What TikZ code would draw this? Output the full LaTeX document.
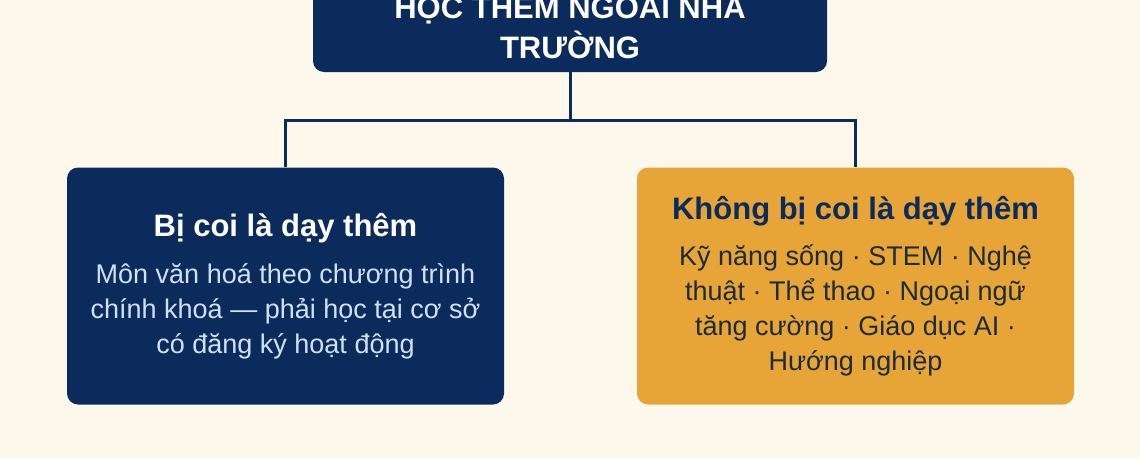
\documentclass[tikz,border=0pt]{standalone}
\usepackage{fontspec}
\setmainfont{Liberation Sans}
\usepackage{xcolor}
\usepackage{tikz}
\definecolor{navy}{HTML}{0B2B5C}
\definecolor{gold}{HTML}{E6A536}
\definecolor{cream}{HTML}{FDF8EC}
\definecolor{paleblue}{HTML}{CFE0F7}
\definecolor{ink}{HTML}{1D2B3F}

\begin{document}
\begin{tikzpicture}[x=1pt,y=-1pt,
	box/.style={rounded corners=11pt,minimum width=437pt,minimum height=237pt,align=center,inner sep=0pt,font=\fontsize{27}{35}\selectfont},
	link/.style={draw=navy,line width=3pt}]
\fill[cream] (0,0) rectangle (1140,458);
\useasboundingbox (0,0) rectangle (1140,458);
%
\node[box,fill=navy,minimum width=514pt,minimum height=95pt,text=white,font=\fontsize{31}{40}\selectfont\bfseries] (root) at (570,24.5) {HỌC THÊM NGOÀI NHÀ\\TRƯỜNG};
\node[box,fill=navy,text=paleblue] (taught) at (285.5,286) {{\fontsize{31}{36}\selectfont\bfseries\color{white}Bị coi là dạy thêm}\\[12pt]Môn văn hoá theo chương trình\\chính khoá — phải học tại cơ sở\\có đăng ký hoạt động};
\node[box,fill=gold,text=ink] (other) at (855.5,286) {{\fontsize{31}{36}\selectfont\bfseries\color{navy}Không bị coi là dạy thêm}\\[11pt]Kỹ năng sống · STEM · Nghệ\\thuật · Thể thao · Ngoại ngữ\\tăng cường · Giáo dục AI ·\\Hướng nghiệp};
%
\draw[link] (root.south) -- ++(0,48) -| (taught.north);
\draw[link] (root.south) -- ++(0,48) -| (other.north);
\end{tikzpicture}
\end{document}
